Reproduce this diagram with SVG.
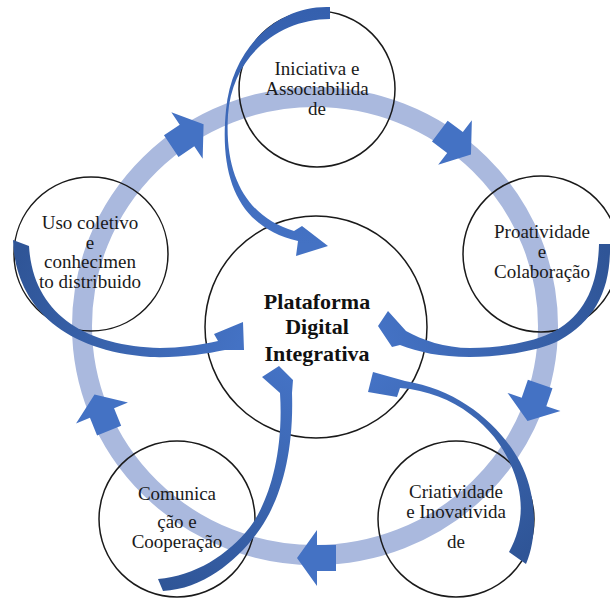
<svg xmlns="http://www.w3.org/2000/svg" width="610" height="599" viewBox="0 0 610 599">
<style>
.node circle{fill:none;stroke:#1a1a1a;stroke-width:1.5}
.lbl{font-family:"Liberation Serif","Times New Roman",serif;font-size:19px;fill:#1a1a1a;text-anchor:middle}
.ctr{font-family:"Liberation Serif","Times New Roman",serif;font-size:22px;font-weight:bold;fill:#111;text-anchor:middle}
.ra{fill:#4472c4}
</style>
<defs>
<path id="blk" d="M-19,-13 L0,-13 L0,-28 L20,0 L0,28 L0,13 L-19,13 Z"/>
<linearGradient id="gA" gradientUnits="userSpaceOnUse" x1="330" y1="10" x2="320" y2="245"><stop offset="0" stop-color="#3560ae"/><stop offset="1" stop-color="#4472c4"/></linearGradient>
<linearGradient id="gB" gradientUnits="userSpaceOnUse" x1="605" y1="250" x2="380" y2="325"><stop offset="0" stop-color="#2f5597"/><stop offset="1" stop-color="#4472c4"/></linearGradient>
<linearGradient id="gC" gradientUnits="userSpaceOnUse" x1="518" y1="558" x2="375" y2="380"><stop offset="0" stop-color="#2f5597"/><stop offset="1" stop-color="#4472c4"/></linearGradient>
<linearGradient id="gD" gradientUnits="userSpaceOnUse" x1="160" y1="586" x2="280" y2="370"><stop offset="0" stop-color="#2f5597"/><stop offset="1" stop-color="#4472c4"/></linearGradient>
<linearGradient id="gE" gradientUnits="userSpaceOnUse" x1="24" y1="243" x2="243" y2="335"><stop offset="0" stop-color="#2f5597"/><stop offset="1" stop-color="#4472c4"/></linearGradient>
</defs>
<rect width="610" height="599" fill="#ffffff"/>

<g id="ring">
<ellipse cx="315" cy="326" rx="233" ry="229" fill="none" stroke="#aab9de" stroke-width="20"/>
<use href="#blk" class="ra" transform="translate(455,142.5) rotate(37)"/>
<use href="#blk" class="ra" transform="translate(534,402) rotate(109)"/>
<use href="#blk" class="ra" transform="translate(317,558) rotate(180)"/>
<use href="#blk" class="ra" transform="translate(102,413) rotate(248)"/>
<use href="#blk" class="ra" transform="translate(187,135.5) rotate(326)"/>
</g>

<g id="center" class="node">
<circle cx="316" cy="327" r="111"/>
<text class="ctr" x="317" y="309">Plataforma</text>
<text class="ctr" x="317" y="334">Digital</text>
<text class="ctr" x="317" y="361">Integrativa</text>
</g>

<g id="n1" class="node">
<circle cx="317" cy="89" r="78"/>
<text class="lbl" x="317" y="75">Iniciativa e</text>
<text class="lbl" x="317" y="95">Associabilida</text>
<text class="lbl" x="317" y="115">de</text>
</g>

<g id="n2" class="node">
<circle cx="541" cy="254" r="78"/>
<text class="lbl" x="542" y="238">Proatividade</text>
<text class="lbl" x="542" y="258">e</text>
<text class="lbl" x="542" y="278">Colaboração</text>
</g>

<g id="n3" class="node">
<circle cx="456" cy="519" r="78"/>
<text class="lbl" x="456" y="498">Criatividade</text>
<text class="lbl" x="456" y="518">e Inovativida</text>
<text class="lbl" x="456" y="548">de</text>
</g>

<g id="n4" class="node">
<circle cx="177" cy="519" r="78"/>
<text class="lbl" x="177" y="500">Comunica</text>
<text class="lbl" x="177" y="528">ção e</text>
<text class="lbl" x="177" y="548">Cooperação</text>
</g>

<g id="n5" class="node">
<circle cx="91" cy="254" r="77"/>
<text class="lbl" x="90" y="229">Uso coletivo</text>
<text class="lbl" x="90" y="249">e</text>
<text class="lbl" x="90" y="268">conhecimen</text>
<text class="lbl" x="90" y="288">to distribuido</text>
</g>

<g id="connectors">
<path fill="url(#gA)" d="M330,7 C280,5 232,45 226,110 C219,180 240,228 298,241 L296,256 L328,246 L302,226 L294,231 C250,218 224,180 228,115 C232,55 280,19 330,19 Z"/>
<path fill="url(#gB)" d="M610,244 C611,290 595,320 560,340 C540,351 500,357 470,357 C440,357 418,352 400,345 L392,347 L378,326 L388,311 L406,331 C422,340 445,348 470,348 C500,348 535,342 555,331 C585,314 598,285 599,244 Z"/>
<path fill="url(#gC)" d="M526,564 C538,535 537,495 520,462 C500,425 460,390 405,381 L373,372 L368,392 L397,397 L400,388 C455,392 495,428 510,463 C525,495 524,525 509,552 Z"/>
<path fill="url(#gD)" d="M158,579 C195,576 228,555 250,527 C268,503 284,455 280,393 L262,377 L279,366 L293,380 L292,393 C294,455 280,500 260,529 C240,558 205,589 163,591 Z"/>
<path fill="url(#gE)" d="M13,240 C15,300 56,350 150,357 C180,358 205,354 225,350 L244,350 L243,322 L214,334 L218,341 C200,345 180,348 160,348 C85,346 33,314 29,246 Z"/>
</g>
</svg>
